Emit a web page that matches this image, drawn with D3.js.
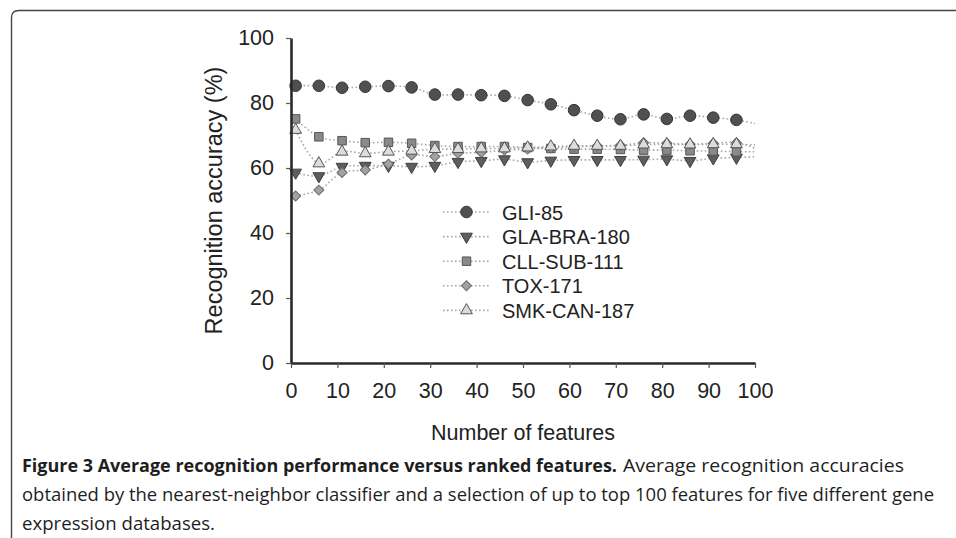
<!DOCTYPE html>
<html>
<head>
<meta charset="utf-8">
<script src="https://cdnjs.cloudflare.com/ajax/libs/d3/7.8.5/d3.min.js"></script>
<style>
  body { margin: 0; background: #fff; }
  svg { display: block; }
  .tick text { font-family: "Liberation Sans", Arial, sans-serif; fill: #222; }
</style>
</head>
<body>
<div id="chart"></div>
<script>
// number of features at each measured point
const featureCounts = [1, 6, 11, 16, 21, 26, 31, 36, 41, 46, 51, 56, 61, 66, 71, 76, 81, 86, 91, 96];
const lineEnd = 100;

const seriesNames = ["GLI-85", "GLA-BRA-180", "CLL-SUB-111", "TOX-171", "SMK-CAN-187"];

const gli85 = [85.3, 85.3, 84.7, 85.0, 85.2, 84.8, 82.6, 82.6, 82.4, 82.2, 80.9, 79.6, 77.8, 76.1, 75.0, 76.5, 75.1, 76.1, 75.5, 74.8];
const glaBra180 = [58.6, 57.5, 60.4, 60.7, 60.7, 60.4, 60.7, 61.9, 62.2, 62.7, 61.8, 62.3, 62.5, 62.5, 62.5, 62.6, 62.7, 62.2, 63.0, 63.2];
const cllSub111 = [75.1, 69.6, 68.4, 67.8, 67.9, 67.6, 66.9, 66.6, 66.6, 66.6, 66.3, 66.0, 65.8, 65.8, 65.7, 65.5, 65.5, 65.3, 65.2, 65.0];
const tox171 = [51.4, 53.2, 58.6, 59.4, 61.2, 64.0, 63.5, 64.5, 64.8, 65.5, 65.8, 66.2, 66.5, 66.8, 67.0, 67.8, 67.6, 67.3, 67.6, 67.8];
const smkCan187 = [71.7, 61.4, 65.0, 64.5, 65.0, 65.3, 65.8, 65.8, 66.0, 66.0, 66.3, 66.6, 66.8, 66.8, 66.8, 67.2, 67.3, 67.2, 67.3, 67.3];
// where each dotted trend line stops at 100 features
const endValues = [73.7, 63.5, 65.0, 66.1, 67.1];

const yTicks = [0, 20, 40, 60, 80, 100];
const xTicks = [0, 10, 20, 30, 40, 50, 60, 70, 80, 90, 100];

const allSeries = [gli85, glaBra180, cllSub111, tox171, smkCan187];

// marker look per series
const markers = [
  { type: d3.symbolCircle, size: 105, rotate: 0, fill: "#505050", stroke: "#333" },
  { type: d3.symbolTriangle, size: 60, rotate: 180, fill: "#5e5e5e", stroke: "#3f3f3f" },
  { type: d3.symbolSquare, size: 72, rotate: 0, fill: "#8a8a8a", stroke: "#555" },
  { type: d3.symbolSquare, size: 50, rotate: 45, fill: "#a2a2a2", stroke: "#6a6a6a" },
  { type: d3.symbolTriangle, size: 60, rotate: 0, fill: "#dcdcdc", stroke: "#555" }
];

const width = 956, height = 538;

const svg = d3.select("#chart").append("svg")
  .attr("width", width)
  .attr("height", height);

// figure frame (top and left edges only)
svg.append("path")
  .attr("d", "M11.5,538 V18 Q11.5,10.5 19,10.5 H956")
  .attr("fill", "none")
  .attr("stroke", "#444")
  .attr("stroke-width", 1.4);

var x = d3.scaleLinear().domain([0, 100]).range([291, 755]);
var y = d3.scaleLinear().domain([0, 100]).range([363, 38]);

var valueline = d3.line()
  .curve(d3.curveCatmullRom)
  .x(function(d) { return x(d[0]); })
  .y(function(d) { return y(d[1]); });

// dotted lines
allSeries.forEach(function(vals, i) {
  let pts = featureCounts.map(function(f, j) { return [f, vals[j]]; });
  pts.push([lineEnd, endValues[i]]);
  svg.append("path")
    .attr("d", valueline(pts))
    .attr("fill", "none")
    .attr("stroke", "#a8a8a8")
    .attr("stroke-width", 1.6)
    .attr("stroke-dasharray", "1.6,2.4");
});

// markers
allSeries.forEach(function(vals, i) {
  let m = markers[i];
  let sym = d3.symbol().type(m.type).size(m.size);
  svg.append("g").selectAll("path")
    .data(vals)
    .join("path")
    .attr("d", sym)
    .attr("transform", function(d, j) {
      return "translate(" + x(featureCounts[j]) + "," + y(d) + ") rotate(" + m.rotate + ")";
    })
    .attr("fill", m.fill)
    .attr("stroke", m.stroke)
    .attr("stroke-width", 1);
});

// axes
let yAxis = svg.append("g")
  .attr("transform", "translate(" + x(0) + ",0)")
  .call(d3.axisLeft(y).tickValues(yTicks).tickSize(5).tickSizeOuter(0).tickPadding(12));

let xAxis = svg.append("g")
  .attr("transform", "translate(0," + y(0) + ")")
  .call(d3.axisBottom(x).tickValues(xTicks).tickSize(5).tickSizeOuter(0).tickPadding(15));

[yAxis, xAxis].forEach(function(ax) {
  ax.select(".domain").attr("stroke", "#2a2a2a").attr("stroke-width", 2.6);
  ax.selectAll(".tick line").attr("stroke", "#555").attr("stroke-width", 1.2);
  ax.selectAll(".tick text").attr("font-size", 21.5);
});

// axis titles
svg.append("text")
  .attr("x", (x(0) + x(100)) / 2)
  .attr("y", 440)
  .attr("text-anchor", "middle")
  .attr("font-family", "Liberation Sans, Arial, sans-serif")
  .attr("font-size", 21.5)
  .attr("fill", "#222")
  .text("Number of features");

svg.append("text")
  .attr("transform", "translate(222," + (y(0) + y(100)) / 2 + ") rotate(-90)")
  .attr("text-anchor", "middle")
  .attr("font-family", "Liberation Sans, Arial, sans-serif")
  .attr("font-size", 23.5)
  .attr("fill", "#222")
  .text("Recognition accuracy (%)");

// legend
let legend = svg.append("g").attr("transform", "translate(443,212)");
seriesNames.forEach(function(name, i) {
  let row = legend.append("g").attr("transform", "translate(0," + i * 24.6 + ")");
  row.append("line")
    .attr("x1", 0).attr("x2", 47).attr("y1", 0).attr("y2", 0)
    .attr("stroke", "#a8a8a8")
    .attr("stroke-width", 1.6)
    .attr("stroke-dasharray", "1.6,2.4");
  let m = markers[i];
  row.append("path")
    .attr("d", d3.symbol().type(m.type).size(m.size))
    .attr("transform", "translate(23.5,0) rotate(" + m.rotate + ")")
    .attr("fill", m.fill)
    .attr("stroke", m.stroke);
  row.append("text")
    .attr("x", 59)
    .attr("y", 7.5)
    .attr("font-family", "Liberation Sans, Arial, sans-serif")
    .attr("font-size", 20)
    .attr("fill", "#222")
    .text(name);
});

// caption (narrow serif-less face squeezed to the printed widths)
let cap = svg.append("g")
  .attr("font-family", "Open Sans, sans-serif")
  .attr("font-size", 18.5)
  .attr("fill", "#1e1e1e");

cap.append("text")
  .attr("x", 22).attr("y", 472)
  .attr("font-weight", "bold")
  .attr("textLength", 595)
  .attr("lengthAdjust", "spacingAndGlyphs")
  .text("Figure 3 Average recognition performance versus ranked features.");

cap.append("text")
  .attr("x", 623).attr("y", 472)
  .attr("textLength", 281)
  .attr("lengthAdjust", "spacingAndGlyphs")
  .text("Average recognition accuracies");

cap.append("text")
  .attr("x", 22).attr("y", 501)
  .attr("textLength", 912)
  .attr("lengthAdjust", "spacingAndGlyphs")
  .text("obtained by the nearest-neighbor classifier and a selection of up to top 100 features for five different gene");

cap.append("text")
  .attr("x", 22).attr("y", 530)
  .attr("textLength", 193)
  .attr("lengthAdjust", "spacingAndGlyphs")
  .text("expression databases.");
</script>
</body>
</html>
